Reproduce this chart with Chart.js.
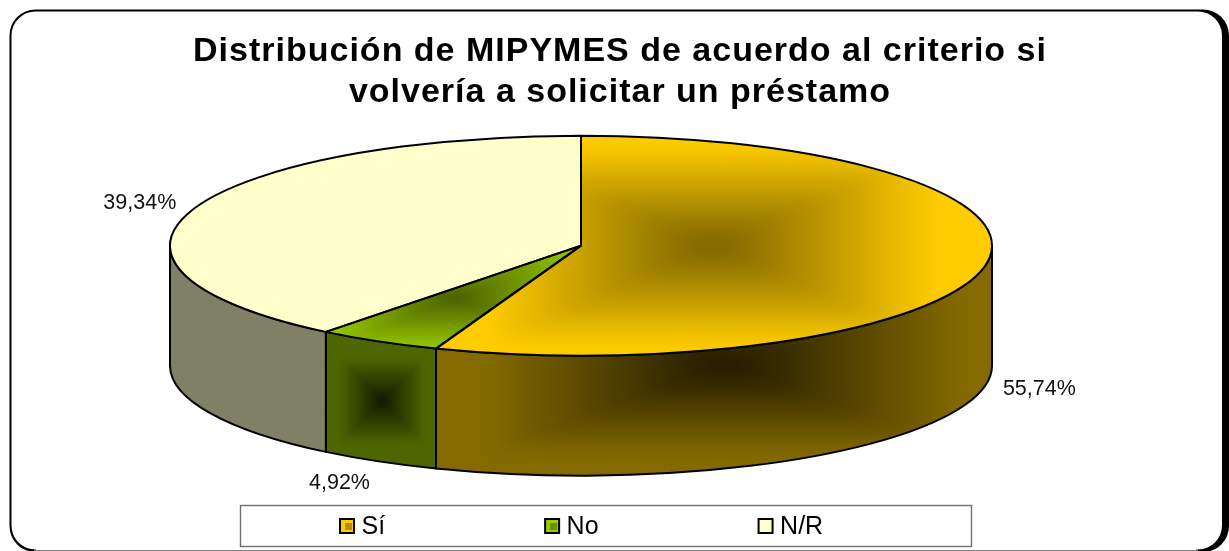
<!DOCTYPE html>
<html><head><meta charset="utf-8">
<style>html,body{margin:0;padding:0;background:#fff}canvas{display:block}</style>
<script src="https://cdn.jsdelivr.net/npm/chart.js@4"></script>
</head><body><canvas id="c" width="1229" height="551"></canvas>
<script>
const categories = ['Sí', 'No', 'N/R'];
const shares = [55.74, 4.92, 39.34];
const titleLines = ['Distribución de MIPYMES de acuerdo al criterio si', 'volvería a solicitar un préstamo'];
const legendSwatch = ['#FFCC00', '#99CC00', '#FFFFCC'];
const legendInner = ['#B38F00', '#6B8F00', '#FFFFCC'];

const FONT = "'Liberation Sans', Arial, sans-serif";
const W = 1229, H = 551;
const TILT = 110 / 411, DEPTH = 120;
const LEGEND_TOP = 515;

function lerpHex(a, b, t) {
  const p = s => [1, 3, 5].map(i => parseInt(s.substr(i, 2), 16));
  const A = p(a), B = p(b);
  return `rgb(${A.map((v, i) => Math.round(v + (B[i] - v) * t)).join(',')})`;
}
// rectangular "from centre" gradient, like the office-chart path fill
function pathGradient(cx, cy, hw, hh, inner, outer, blur) {
  const cv = document.createElement('canvas');
  cv.width = W; cv.height = H;
  const g = cv.getContext('2d');
  g.fillStyle = outer; g.fillRect(0, 0, W, H);
  const steps = 120;
  for (let i = steps; i >= 0; i--) {
    const t = i / steps;
    g.fillStyle = lerpHex(inner, outer, t);
    g.fillRect(cx - hw * t, cy - hh * t, 2 * hw * t, 2 * hh * t);
  }
  const out = document.createElement('canvas');
  out.width = W; out.height = H;
  const o = out.getContext('2d');
  o.filter = `blur(${blur}px)`;
  o.drawImage(cv, 0, 0);
  return o.createPattern(out, 'no-repeat');
}
const topFills = [
  pathGradient(712, 246, 225, 100, '#7A6200', '#FFCC00', 9),
  pathGradient(455, 298, 126, 52, '#4A6000', '#99CC00', 3),
  '#FFFFCC'
];
const wallFills = [
  pathGradient(725, 365, 240, 90, '#1E1800', '#846A00', 9),
  pathGradient(382, 401, 42, 42, '#141A00', '#4D6600', 2),
  '#808066'
];
const labelOffsets = [[54, 4], [-39, 22], [-53, -6]];

function ellipseWedge(ctx, a, s, e) {
  ctx.beginPath();
  ctx.moveTo(a.x, a.y);
  ctx.ellipse(a.x, a.y, a.outerRadius, a.outerRadius * TILT, 0, s, e);
  ctx.closePath();
}

const pie3d = {
  id: 'pie3d',
  beforeUpdate(chart) {
    const lg = chart.legend;
    if (lg && !lg._patched) {
      const fit = lg.fit;
      lg.fit = function () { fit.call(this); this.height = 0; };
      lg._patched = true;
      const tb = chart.titleBlock, draw = tb.draw;
      tb.draw = function () {
        chart.ctx.letterSpacing = '1px';
        draw.call(this);
        chart.ctx.letterSpacing = '0px';
      };
    }
  },
  afterLayout(chart) {
    chart.titleBlock.left = 5.5; chart.titleBlock.right = W + 5.5;
    const lg = chart.legend, pad = lg.options.labels.padding;
    lg.left = 340 - pad;
    lg.right = W;
    lg.top = LEGEND_TOP - pad;
    lg.bottom = H;
    lg.width = lg.right - lg.left;
    lg.height = lg.bottom - lg.top;
  },
  beforeDraw(chart) {
    const c = chart.ctx;
    c.save();
    c.fillStyle = '#fff'; c.fillRect(0, 0, W, H);
    // frame: thin on the top and left, heavy on the right
    c.fillStyle = '#000';
    c.beginPath();
    c.roundRect(9.5, 9.5, 1219.5, 542.5, 26);
    c.roundRect(11.5, 11.5, 1210.5, 538, 24);
    c.fill('evenodd');
    c.fillStyle = '#fff';
    c.fillRect(36, 549, 1160, 3);
    c.fillStyle = '#808080';
    c.fillRect(34, 550, 1164, 1);
    c.restore();
  },
  beforeDatasetsDraw(chart) {
    const c = chart.ctx;
    // legend frame
    c.save();
    c.strokeStyle = '#707070'; c.lineWidth = 1.4;
    c.strokeRect(240.5, 505.5, 731, 41);
    c.restore();
  },
  beforeDatasetDraw(chart, args) {
    const c = chart.ctx, arcs = args.meta.data;
    const cy = arcs[0].y;
    // side walls from the arc elements
    arcs.forEach((a, i) => {
      const s = Math.max(a.startAngle, 0), e = Math.min(a.endAngle, Math.PI);
      if (e <= s) return;
      const rx = a.outerRadius, ry = rx * TILT;
      c.save();
      c.beginPath();
      c.ellipse(a.x, a.y, rx, ry, 0, s, e);
      c.ellipse(a.x, a.y + DEPTH, rx, ry, 0, e, s, true);
      c.closePath();
      c.fillStyle = wallFills[i];
      c.fill();
      c.strokeStyle = '#000'; c.lineWidth = 2; c.lineJoin = 'round';
      c.stroke();
      c.restore();
    });
    const inv = new DOMMatrix().translate(0, cy).scale(1, 1 / TILT).translate(0, -cy);
    topFills.forEach(f => { if (f.setTransform) f.setTransform(inv); });
    c.save();
    c.translate(0, cy); c.scale(1, TILT); c.translate(0, -cy);
  },
  afterDatasetDraw(chart, args) {
    const c = chart.ctx;
    c.restore();
    args.meta.data.forEach(a => {
      c.save();
      ellipseWedge(c, a, a.startAngle, a.endAngle);
      c.strokeStyle = '#000'; c.lineWidth = 2; c.lineJoin = 'round';
      c.stroke();
      c.restore();
    });
    // percentage labels
    c.save();
    c.font = `21.5px ${FONT}`;
    c.fillStyle = '#111';
    c.textAlign = 'center'; c.textBaseline = 'middle';
    args.meta.data.forEach((a, i) => {
      const mid = (a.startAngle + a.endAngle) / 2;
      const x = a.x + a.outerRadius * Math.cos(mid);
      let y = a.y + a.outerRadius * TILT * Math.sin(mid);
      if (Math.sin(mid) > 0) y += DEPTH;
      const txt = shares[i].toFixed(2).replace('.', ',') + '%';
      c.fillText(txt, x + labelOffsets[i][0], y + labelOffsets[i][1]);
    });
    c.restore();
  },
  afterDraw(chart) {
    const c = chart.ctx, lg = chart.legend, L = lg.options.labels;
    const f = L.font.size;
    let x = 340;
    // full legend swatches, with their darker inner square
    lg.legendItems.forEach((it, i) => {
      c.save();
      c.font = `${f}px ${FONT}`;
      const tw = c.measureText(it.text).width;
      const top = LEGEND_TOP + (f - L.boxHeight) / 2 - 1.5;
      c.fillStyle = legendSwatch[i];
      c.fillRect(x, top, 14, 14);
      c.fillStyle = legendInner[i];
      c.fillRect(x + 5, top + 4, 7, 7);
      c.strokeStyle = '#000'; c.lineWidth = 2;
      c.strokeRect(x, top, 14, 14);
      c.restore();
      x += L.boxWidth + f / 2 + tw + L.padding;
    });
  }
};

new Chart(document.getElementById('c'), {
  type: 'pie',
  data: {
    labels: categories,
    datasets: [{
      data: shares,
      backgroundColor: topFills,
      borderWidth: 0,
      radius: 411,
      clip: false
    }]
  },
  options: {
    responsive: false,
    animation: false,
    events: [],
    layout: { padding: { left: 0, right: 67, top: 0, bottom: 173 } },
    plugins: {
      tooltip: { enabled: false },
      title: {
        display: true,
        text: titleLines,
        color: '#000',
        font: { family: FONT, size: 34, weight: 'bold', lineHeight: 1.21 },
        padding: { top: 31, bottom: 0 }
      },
      legend: {
        display: true,
        position: 'bottom',
        align: 'start',
        labels: {
          boxWidth: 9, boxHeight: 14, padding: 160,
          color: '#000',
          font: { family: FONT, size: 25 },
          generateLabels: chart => categories.map((t, i) => ({
            text: t, fillStyle: 'rgba(0,0,0,0)', strokeStyle: 'rgba(0,0,0,0)', lineWidth: 0, hidden: false, index: i
          }))
        }
      }
    }
  },
  plugins: [pie3d]
});
</script></body></html>
